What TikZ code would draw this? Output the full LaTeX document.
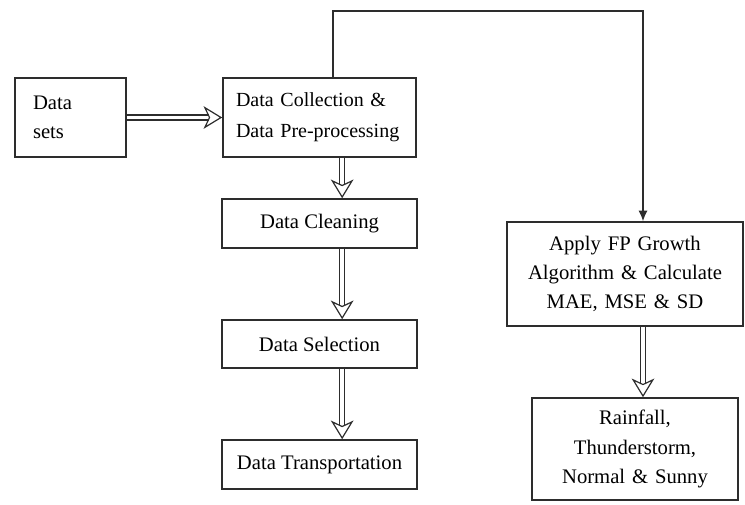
\documentclass[tikz,border=0pt]{standalone}
\usepackage{fontspec}
\setmainfont{Liberation Serif}
\usetikzlibrary{arrows.meta}

\definecolor{linegray}{RGB}{45,45,45}

\tikzset{
  stagebox/.style={draw=linegray, line width=1.2pt, rectangle, inner sep=0pt,
    font=\fontsize{15.5}{22}\selectfont},
  hollowarrow/.style={draw=linegray, line width=0.9pt, double=white,
    double distance=2.8pt, -{Stealth[open, length=14pt, width=17pt, inset=4pt]}},
  thinarrow/.style={draw=linegray, line width=1.1pt, -{Latex[length=8pt, width=7pt]}}
}

\begin{document}
\begin{tikzpicture}[x=0.75pt, y=-0.75pt]
        \useasboundingbox (0,0) rectangle (745,504);

        % Boxes of the left column
        \node[stagebox, minimum height=79*0.75pt, inner xsep=18*0.75pt,
              text width=75*0.75pt, align=left] (sets) at (70.5,117.5) {Data\\sets};
        \node[stagebox, minimum height=79*0.75pt, inner xsep=13*0.75pt,
              text width=167*0.75pt, align=left, font=\fontsize{15}{23}\selectfont]
              (collect) at (319.5,117.5) {Data Collection \&\\Data Pre-processing};
        \node[stagebox, minimum width=195*0.75pt, minimum height=49*0.75pt] (clean) at (319.5,223.5) {Data Cleaning};
        \node[stagebox, minimum width=195*0.75pt, minimum height=48*0.75pt] (select) at (319.5,344) {Data Selection};
        \node[stagebox, minimum width=195*0.75pt, minimum height=49*0.75pt] (transp) at (319.5,464.5) {Data Transportation};

        % Boxes of the right column
        \node[stagebox, minimum width=236*0.75pt, minimum height=104*0.75pt,
              text width=230*0.75pt, align=center] (apply) at (625,274)
              {Apply FP Growth\\Algorithm \& Calculate\\MAE, MSE \& SD};
        \node[stagebox, minimum width=206*0.75pt, minimum height=102*0.75pt,
              text width=200*0.75pt, align=center] (result) at (635,449)
              {Rainfall,\\Thunderstorm,\\Normal \& Sunny};

        % Hollow double arrows
        \draw[hollowarrow] (sets.east) -- (collect.west);
        \draw[hollowarrow] ([xshift=17pt]collect.south) -- ([xshift=17pt]clean.north);
        \draw[hollowarrow] ([xshift=17pt]clean.south) -- ([xshift=17pt]select.north);
        \draw[hollowarrow] ([xshift=17pt]select.south) -- ([xshift=17pt]transp.north);
        \draw[hollowarrow] ([xshift=13.5pt]apply.south) -- ([xshift=6pt]result.north);

        % Connector over the top
        \draw[thinarrow] ([xshift=10pt]collect.north) -- ++(0,-66) -| ([xshift=13.5pt]apply.north);
    \end{tikzpicture}
\end{document}
